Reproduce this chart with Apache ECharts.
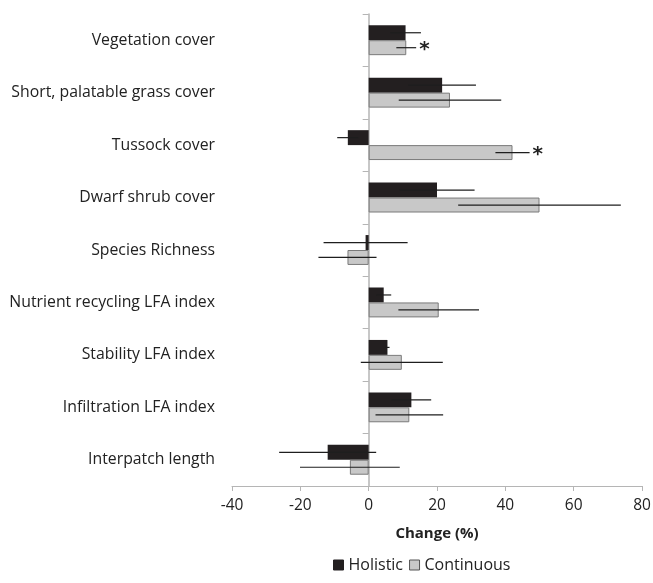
<!DOCTYPE html>
<html>
<head>
<meta charset="utf-8">
<script src="https://cdn.jsdelivr.net/npm/echarts@6/dist/echarts.min.js"></script>
<style>html,body{margin:0;padding:0;background:#fff;}#c{width:653px;height:583px;}</style>
</head>
<body>
<div id="c"></div>
<script>
var categories = ['Vegetation cover', 'Short, palatable grass cover', 'Tussock cover', 'Dwarf shrub cover', 'Species Richness', 'Nutrient recycling LFA index', 'Stability LFA index', 'Infiltration LFA index', 'Interpatch length'];
var holistic = [10.8, 21.5, -6.1, 20.0, -0.9, 4.4, 5.5, 12.5, -12.0];
var holisticErr = [4.5, 9.9, 3.1, 11.0, 12.3, 2.2, 0.6, 5.8, 14.2];
var continuous = [11.0, 23.8, 42.1, 50.0, -6.2, 20.5, 9.7, 11.9, -5.5];
var continuousErr = [2.9, 15.0, 5.0, 23.8, 8.5, 11.8, 12.0, 9.9, 14.6];
var continuousSig = ['*', '', '*', '', '', '', '', '', ''];
var xTicks = [-40, -20, 0, 20, 40, 60, 80];

var FONT = 'Open Sans';
var GAP = 0.43;

var errData = [];
for (var i = 0; i < categories.length; i++) {
  errData.push([holistic[i], i, holisticErr[i], 0, '']);
  errData.push([continuous[i], i, continuousErr[i], 1, continuousSig[i]]);
}

var chart = echarts.init(document.getElementById('c'), null, {renderer: 'canvas'});
chart.setOption({
  animation: false,
  backgroundColor: '#fff',
  grid: {left: 232, right: 11, top: 14, bottom: 97, containLabel: false, outerBoundsMode: 'none'},
  xAxis: {
    type: 'value', min: xTicks[0], max: xTicks[xTicks.length - 1], interval: 20,
    axisLine: {show: true, onZero: false, lineStyle: {color: '#b5b5b5', width: 1}},
    axisTick: {show: true, length: 5, lineStyle: {color: '#b5b5b5'}},
    splitLine: {show: false},
    axisLabel: {fontFamily: FONT, fontSize: 15.5, color: '#222', margin: 12},
    name: 'Change (%)', nameLocation: 'middle', nameGap: 40,
    nameTextStyle: {fontFamily: FONT, fontSize: 15, fontWeight: 'bold', color: '#222'}
  },
  yAxis: {
    type: 'category', data: categories, inverse: true,
    axisLine: {onZero: true, lineStyle: {color: '#b5b5b5', width: 1.5}},
    axisTick: {show: true, length: 6, lineStyle: {color: '#b5b5b5'}},
    axisLabel: {fontFamily: FONT, fontSize: 15.8, color: '#222', margin: 17}
  },
  legend: {
    data: [
      {name: 'Holistic', itemStyle: {color: '#231f20', borderColor: '#231f20', borderWidth: 1}},
      {name: 'Continuous', itemStyle: {color: '#c8c8c8', borderColor: '#555', borderWidth: 1}}
    ],
    icon: 'rect',
    left: 328, bottom: 5,
    itemWidth: 10, itemHeight: 10, itemGap: 6,
    textStyle: {fontFamily: FONT, fontSize: 16, color: '#222'}
  },
  series: [
    {name: 'Holistic', type: 'bar', data: holistic, barGap: '0%', barCategoryGap: (GAP * 100) + '%',
     itemStyle: {color: '#231f20', borderColor: '#231f20', borderWidth: 0}},
    {name: 'Continuous', type: 'bar', data: continuous, barGap: '0%', barCategoryGap: (GAP * 100) + '%',
     itemStyle: {color: '#c8c8c8', borderColor: '#7a7a7a', borderWidth: 1}},
    {name: 'err', type: 'custom', data: errData, z: 5,
     encode: {x: 0, y: 1},
     renderItem: function (params, api) {
       var v = api.value(0), cat = api.value(1), e = api.value(2), s = api.value(3);
       var sig = errData[params.dataIndex][4];
       var c = api.coord([v, cat]);
       var band = api.size([0, 1])[1];
       var bw = band * (1 - GAP) / 2;
       var y = c[1] + (s === 0 ? -bw / 2 : bw / 2);
       var x1 = api.coord([v - e, cat])[0];
       var x2 = api.coord([v + e, cat])[0];
       var children = [{
         type: 'line', shape: {x1: x1, y1: y, x2: x2, y2: y},
         style: {stroke: '#1e1e1e', lineWidth: 1.2}
       }];
       if (sig) {
         children.push({type: 'text', style: {x: x2 + 3, y: y + 2, text: sig, fill: '#222', fontSize: 20, fontWeight: 'bold', fontFamily: 'DejaVu Sans', textAlign: 'left', textVerticalAlign: 'middle'}});
       }
       return {type: 'group', children: children};
     }}
  ]
});
</script>
</body>
</html>
